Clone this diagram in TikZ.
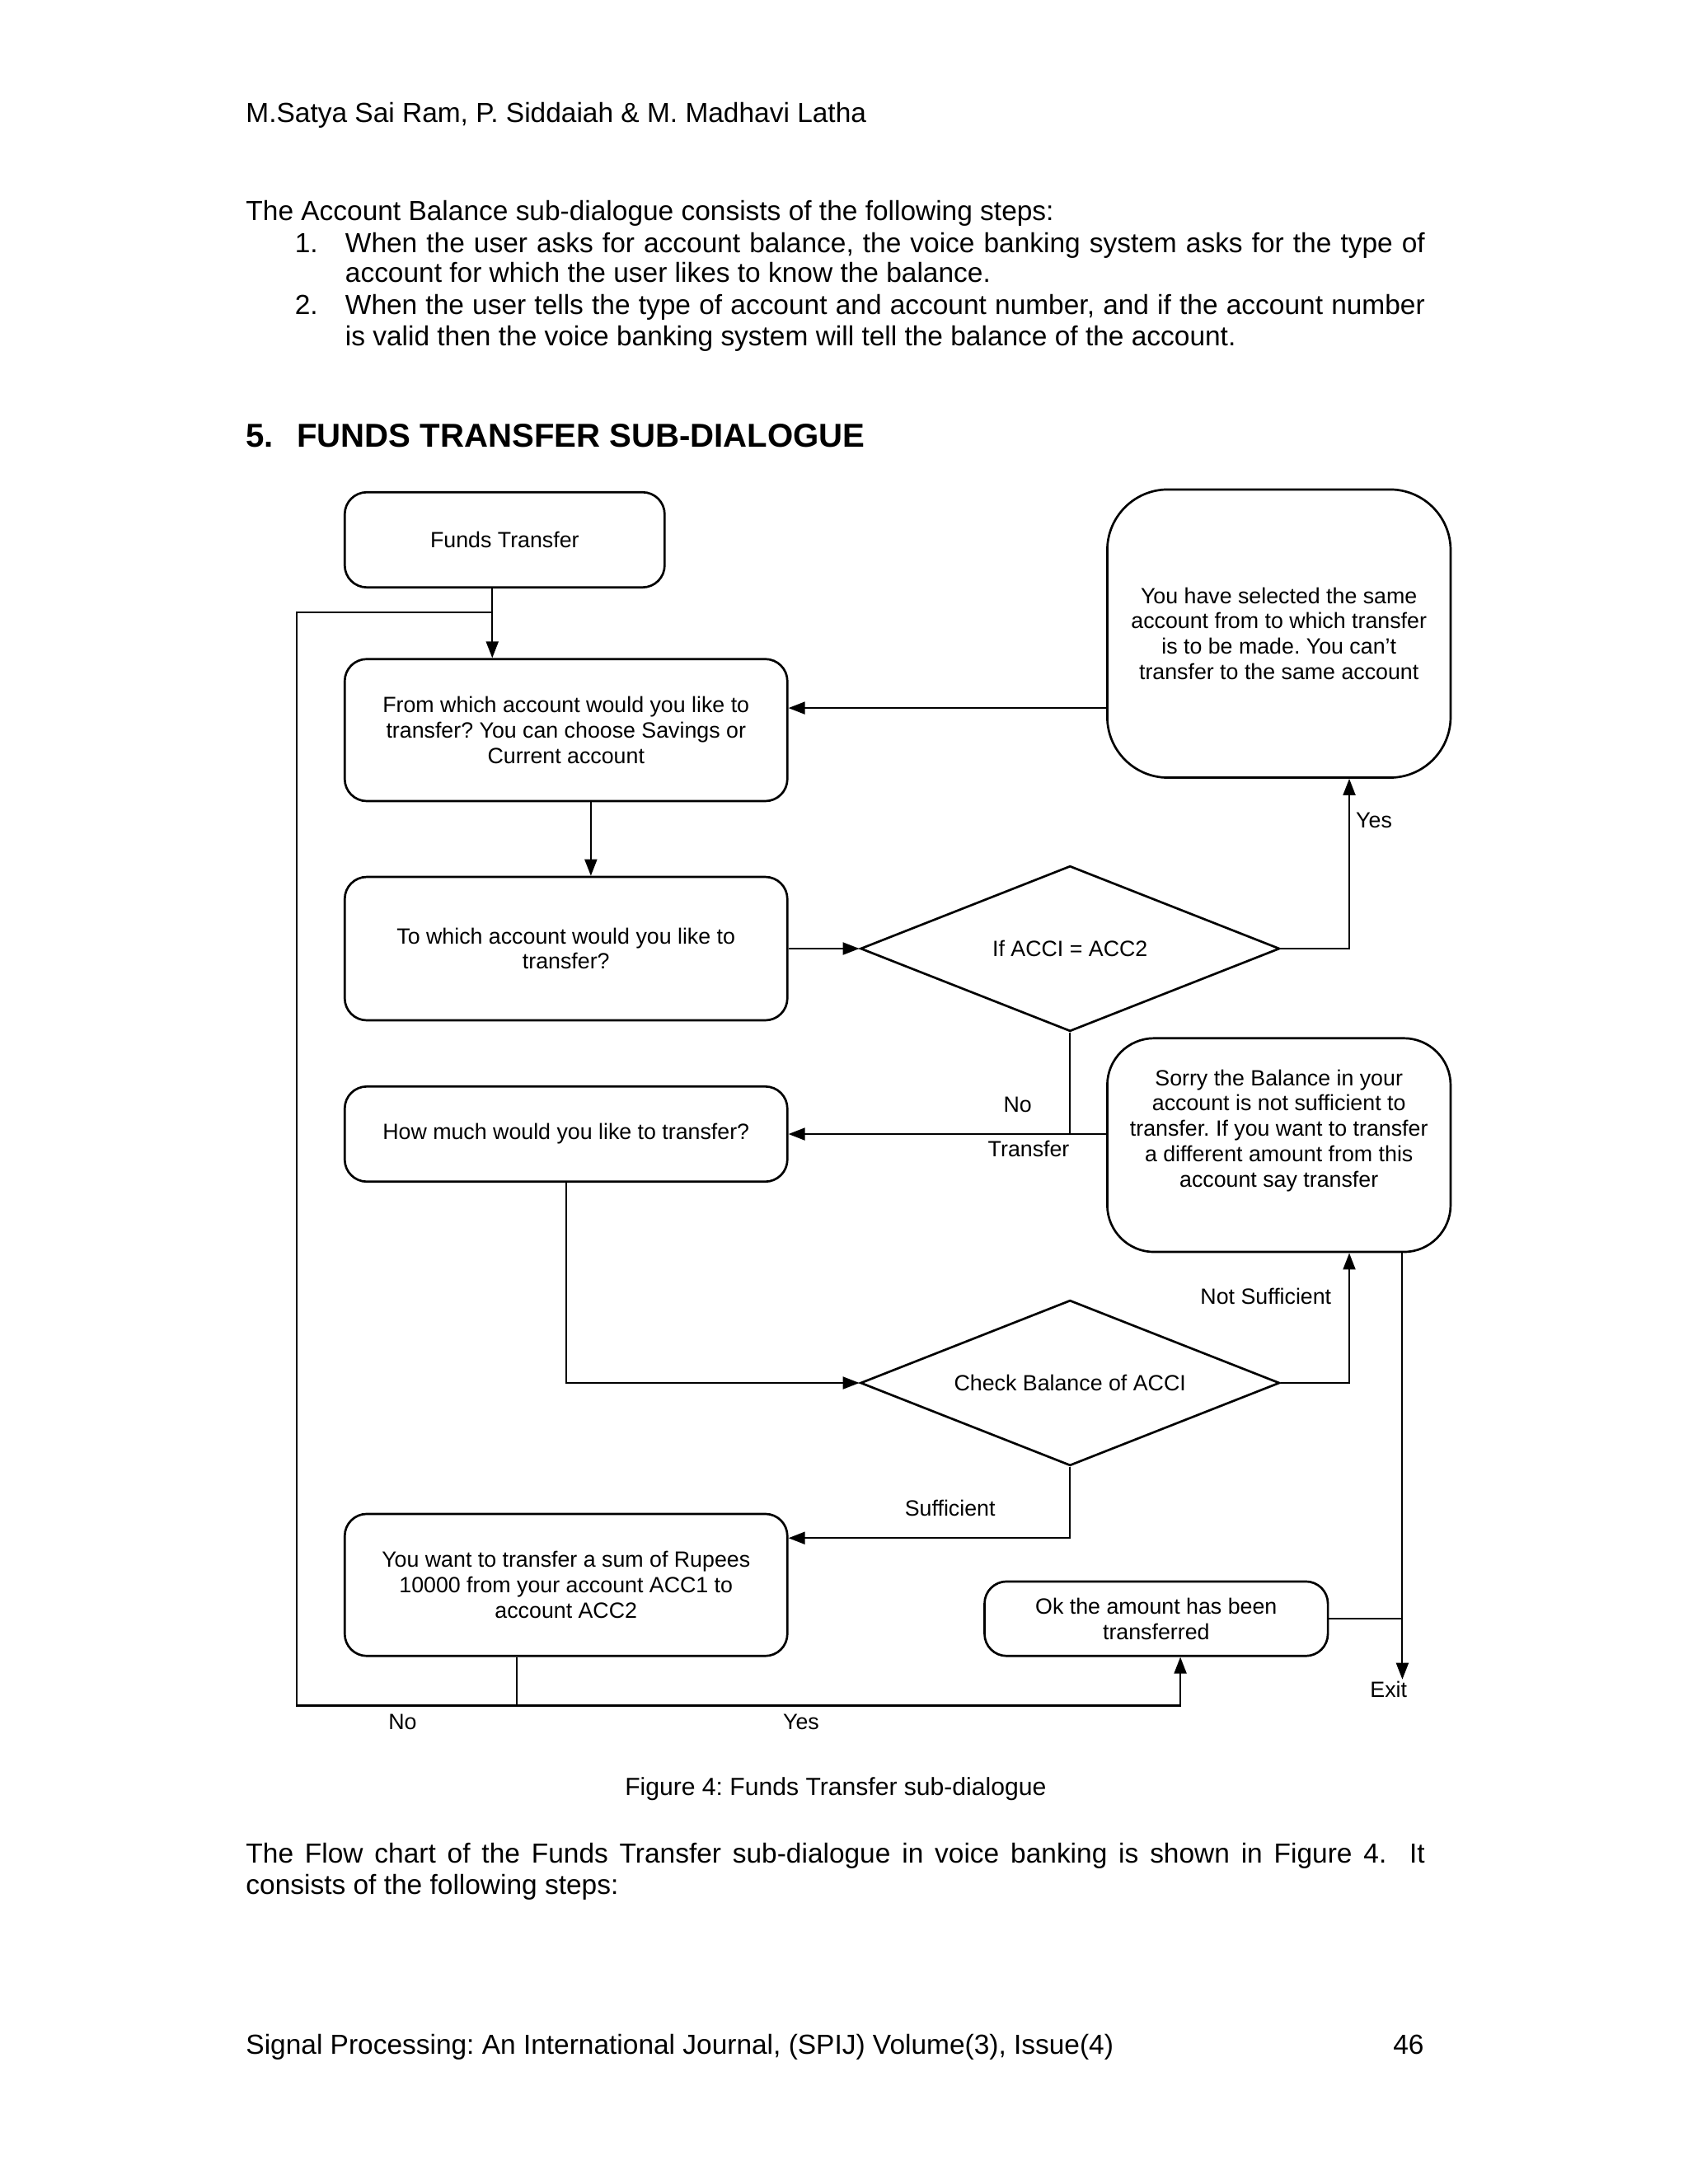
\documentclass[tikz,border=0pt]{standalone}
\usepackage{fontspec}
\setmainfont{Liberation Sans}
\usetikzlibrary{shapes.geometric,arrows.meta,positioning}
\frenchspacing

\begin{document}
\begin{tikzpicture}[
  x=0.5pt, y=-0.5pt,
  txt/.style={inner sep=0pt, anchor=base west, font=\fontsize{10}{11.5}\selectfont},
  mybox/.style={
    draw,
    line width=0.8pt,
    rounded corners=#1,
    align=center,
    inner sep=2pt,
    font=\fontsize{8}{9.2}\selectfont
    },
  mybox/.default=8pt,
  mydiamond/.style={
    draw,
    line width=0.8pt,
    diamond,
    aspect=2.53,
    minimum width=152pt,
    minimum height=60pt,
    inner sep=0pt,
    font=\fontsize{8}{9.2}\selectfont
    },
  myline/.style={line width=0.6pt},
  myarrow/.style={myline, -{Triangle[length=6pt,width=4.5pt]}},
  mylabel/.style={inner sep=1pt, font=\fontsize{8}{9.2}\selectfont}
]

% page
\fill[white] (0,0) rectangle (1224,1584);
\useasboundingbox (0,0) rectangle (1224,1584);

% page text
\node[txt] (header) at (178,89) {M.Satya Sai Ram, P. Siddaiah \& M. Madhavi Latha};
\node[txt] (intro) at (178,160) {The Account Balance sub-dialogue consists of the following steps:};
\node[txt, anchor=base east] (numone) at (231,183) {1.};
\node[txt] (itemonea) at (250,183) {\makebox[391.5pt][s]{When the user asks for account balance, the voice banking system asks for the type of}};
\node[txt] (itemoneb) at (250,205) {account for which the user likes to know the balance.};
\node[txt, anchor=base east] (numtwo) at (231,228) {2.};
\node[txt] (itemtwoa) at (250,228) {\makebox[391.5pt][s]{When the user tells the type of account and account number, and if the account number}};
\node[txt] (itemtwob) at (250,251) {is valid then the voice banking system will tell the balance of the account.};
\node[txt, font=\fontsize{12}{14}\bfseries] (secnum) at (178,324) {5.};
\node[txt, font=\fontsize{12}{14}\bfseries] (sectitle) at (215,324) {FUNDS TRANSFER SUB-DIALOGUE};

% boxes
\node[mybox, minimum width=116pt, minimum height=34.5pt] (ft) at (366,391.5) {Funds Transfer};
\node[mybox, minimum width=160.5pt, minimum height=51.5pt] (from) at (410.5,529.5)
  {From which account would you like to\\ transfer? You can choose Savings or\\ Current account};
\node[mybox, minimum width=160.5pt, minimum height=52pt] (to) at (410.5,688)
  {To which account would you like to\\ transfer?};
\node[mybox, minimum width=160.5pt, minimum height=34.5pt] (much) at (410.5,822.5)
  {How much would you like to transfer?};
\node[mybox, minimum width=160.5pt, minimum height=51.5pt] (want) at (410.5,1149.5)
  {You want to transfer a sum of Rupees\\ 10000 from your account ACC1 to\\ account ACC2};
\node[mybox, minimum width=124.5pt, minimum height=27pt] (ok) at (838.5,1174)
  {Ok the amount has been\\ transferred};
\node[mybox=22pt, minimum width=124.5pt, minimum height=104.5pt] (same) at (927.5,459.5)
  {You have selected the same\\ account from to which transfer\\ is to be made. You can’t\\ transfer to the same account};
\node[mybox=17pt, minimum width=124.5pt, minimum height=77.5pt] (sorry) at (927.5,830.5)
  {Sorry the Balance in your\\ account is not sufficient to\\ transfer. If you want to transfer\\ a different amount from this\\ account say transfer\\[3pt]\mbox{}};

% decisions
\node[mydiamond] (d1) at (776,688) {If ACCI = ACC2};
\node[mydiamond] (d2) at (776,1003) {Check Balance of ACCI};

% junctions
\coordinate (jtop) at (357,444);
\coordinate (jbot) at (375,1237);
\coordinate (cornertl) at (215,444);
\coordinate (cornerbl) at (215,1237);
\coordinate (yesturn) at (856,1237);
\coordinate (exitend) at (1017,1218);
\coordinate (fromin) at ([yshift=8pt]from.east);
\coordinate (wantin) at ([yshift=17pt]want.east);

% connectors
\draw[myarrow] (ft.south -| jtop) -- (jtop |- from.north);
\draw[myarrow] ([xshift=9pt]from.south) -- ([xshift=9pt]to.north);
\draw[myarrow] (to.east) -- (d1.west);
\draw[myarrow] (d1.east) -| ([xshift=25.5pt]same.south);
\draw[myarrow] (same.west |- fromin) -- (fromin);
\draw[myarrow] (d1.south) |- (much.east);
\draw[myline] (sorry.west |- much.east) -- (d1.south |- much.east);
\draw[myarrow] (much.south) |- (d2.west);
\draw[myarrow] (d2.east) -| ([xshift=25.5pt]sorry.south);
\draw[myarrow] (d2.south) |- (wantin);
\draw[myarrow] (sorry.south -| exitend) -- (exitend);
\draw[myline] (ok.east) -- (ok.east -| exitend);
\draw[myline] (want.south -| jbot) -- (jbot);
\draw[myline] (jbot) -- (cornerbl) -- (cornertl) -- (jtop);
\draw[myarrow] (jbot) -- (yesturn) -- (yesturn |- ok.south);

% labels
\node[mylabel, anchor=west] (lyesa) at (981,595) {Yes};
\node[mylabel] (lnoa) at (738,801) {No};
\node[mylabel] (ltransfer) at (746,833) {Transfer};
\node[mylabel] (lnotsuff) at (918,940) {Not Sufficient};
\node[mylabel] (lsuff) at (689,1094) {Sufficient};
\node[mylabel] (lexit) at (1007,1225) {Exit};
\node[mylabel] (lnob) at (292,1249) {No};
\node[mylabel] (lyesb) at (581,1249) {Yes};

% caption and following text
\node[txt, anchor=base, font=\fontsize{9}{11}\selectfont] (caption) at (606,1302) {Figure 4: Funds Transfer sub-dialogue};
\node[txt] (paraa) at (178,1351) {\makebox[427.5pt][s]{The Flow chart of the Funds Transfer sub-dialogue in voice banking is shown in Figure 4.\ \ It}};
\node[txt] (parab) at (178,1374) {consists of the following steps:};
\node[txt] (footer) at (178,1490) {Signal Processing: An International Journal, (SPIJ) Volume(3), Issue(4)};
\node[txt, anchor=base east] (pagenum) at (1033,1490) {46};

\end{tikzpicture}
\end{document}
